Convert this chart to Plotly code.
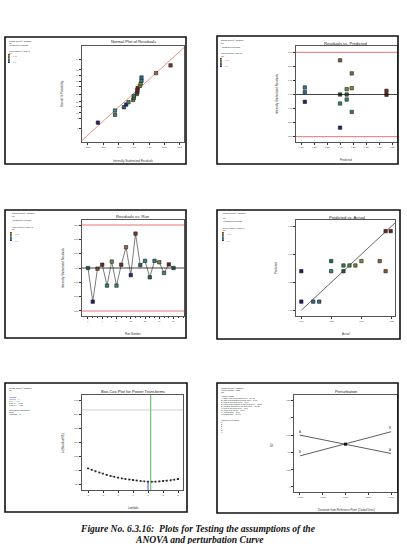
import plotly.graph_objects as go
from statistics import NormalDist

W, H = 407, 544

# ---------------- data ----------------
run_no = list(range(1, 20))
residuals = [0.00, -2.35, -0.05, 0.23, -1.23, 0.45, -1.23, 0.23, 1.45, -0.50,
             2.40, 0.20, 0.50, -0.65, 0.50, 0.40, -0.35, 0.25, 0.00]
run_colors = ["#2e7d4f", "#1f1f6b", "#8a6a2a", "#7a2222", "#2f7f78", "#7f8a3a",
              "#3a8a7a", "#7a2a2a", "#9a6a3a", "#262680", "#803a2a", "#2a5f6a",
              "#2f8080", "#2a6060", "#2f6f90", "#6f8a3a", "#3a8a5a", "#6a2020", "#2a7a4a"]
normal_prob = [2.63, 7.89, 13.16, 18.42, 23.68, 28.95, 34.21, 39.47, 44.74, 50.00,
               55.26, 60.53, 65.79, 71.05, 76.32, 81.58, 86.84, 92.11, 97.37]
normal_ticks = [1, 5, 10, 20, 30, 50, 70, 80, 90, 95, 99]
normal_line_x = [-3.39, 3.28]
normal_line_p = [0.084, 99.916]

pred_vals = [0.177, 0.177, 0.177, 0.448, 0.448, 0.448, 0.448, 0.499, 0.499, 0.499,
             0.538, 0.538, 0.538, 0.805, 0.805]
pred_resid = [0.50, 0.17, -0.52, 2.43, 0.00, -0.64, -2.36, 0.38, 0.00, -0.36,
              1.50, 0.45, -1.24, 0.26, -0.02]
pred_colors = ["#2f6f90", "#2a6a90", "#1f1f6b", "#8a5a2a", "#1e5a32", "#2f7f78", "#1f1f6b",
               "#6f8a3a", "#2e7d4f", "#3a8a6a", "#8a6a3a", "#7f8a3a", "#2f7f78", "#7a2222", "#6a2020"]
resid_limit = 3.0

actual_vals = [0.100, 0.100, 0.199, 0.249, 0.348, 0.348, 0.450, 0.450, 0.500, 0.549,
               0.599, 0.751, 0.800, 0.800, 0.842]
predicted_vals = [0.448, 0.177, 0.177, 0.177, 0.538, 0.448, 0.499, 0.448, 0.499, 0.499,
                  0.538, 0.538, 0.448, 0.805, 0.805]
pva_colors = ["#1f1f6b", "#1f1f6b", "#2a6a90", "#2f6f90", "#1e6a4a", "#2f8080", "#2e7d4f",
              "#1e5a32", "#3a8a4a", "#6f8a3a", "#7f8a3a", "#8a6a3a", "#8a5a2a", "#7a2222", "#6a2020"]
fit_line = [0.10, 0.90]

lambda_vals = [-3.0, -2.75, -2.5, -2.25, -2.0, -1.75, -1.5, -1.25, -1.0, -0.75, -0.5, -0.25,
               0.0, 0.25, 0.5, 0.75, 1.0, 1.25, 1.5, 1.75, 2.0, 2.25, 2.5, 2.75, 3.0]
ln_rss = [-3.917, -3.970, -4.024, -4.066, -4.107, -4.150, -4.190, -4.220, -4.250, -4.275,
          -4.298, -4.316, -4.333, -4.352, -4.369, -4.382, -4.393, -4.396, -4.393, -4.383,
          -4.369, -4.357, -4.345, -4.322, -4.298]
lambda_current = 1.0
lambda_best = 1.18
ci_level = -1.833

pert_dev = [-1.0, 0.0, 1.0]
pert_A = [0.751, 0.620, 0.485]
pert_B = [0.450, 0.620, 0.800]

# ---------------- helpers ----------------
def px(x):
    return x / W

def py(y):
    return 1 - y / H

nd = NormalDist()
def z(p):
    return nd.inv_cdf(p / 100.0)

fig = go.Figure()

base_ax = dict(showline=True, linecolor="#555", linewidth=0.8, mirror=True,
               ticks="outside", ticklen=2, tickwidth=0.6, tickcolor="#333",
               tickfont=dict(size=2.3, family="Liberation Sans", color="#333"),
               showgrid=False, zeroline=False, fixedrange=True)

# plot areas (pixel coords): x0, x1, y0(top), y1(bottom)
areas = {
    1: (82, 184, 46, 142),
    2: (296, 397, 46, 142),
    3: (82, 184, 220, 316),
    4: (296, 395, 220, 316),
    5: (82, 183, 395, 490),
    6: (294, 397, 395, 492),
}
layout_axes = {}
for i, (x0, x1, y0, y1) in areas.items():
    sx = "" if i == 1 else str(i)
    layout_axes["xaxis" + sx] = dict(base_ax, domain=[px(x0), px(x1)], anchor="y" + sx)
    layout_axes["yaxis" + sx] = dict(base_ax, domain=[py(y1), py(y0)], anchor="x" + sx)

def fmt2(v):
    return "%.2f" % v

# Panel 1 ranges/ticks
layout_axes["xaxis"].update(range=[-3.39, 3.28], tickvals=[-3, -2, -1, 0, 1, 2, 3],
                            ticktext=[fmt2(v) for v in [-3, -2, -1, 0, 1, 2, 3]])
layout_axes["yaxis"].update(range=[-3.25, 3.25], tickvals=[z(p) for p in normal_ticks],
                            ticktext=[str(p) for p in normal_ticks])
# Panel 2
p2x = [0.15, 0.25, 0.35, 0.45, 0.55, 0.65, 0.75, 0.85]
layout_axes["xaxis2"].update(range=[0.109, 0.886], tickvals=p2x, ticktext=[fmt2(v) for v in p2x])
ry = [-3, -2, -1, 0, 1, 2, 3]
layout_axes["yaxis2"].update(range=[-3.38, 3.45], tickvals=ry, ticktext=[fmt2(v) for v in ry])
# Panel 3
layout_axes["xaxis3"].update(range=[-0.26, 21.2], tickvals=[1, 4, 7, 10, 13, 16, 19],
                             minor=dict(tickvals=list(range(1, 22)), ticks="outside",
                                        ticklen=1, tickwidth=0.5, tickcolor="#333"))
layout_axes["yaxis3"].update(range=[-3.35, 3.35], tickvals=ry, ticktext=[fmt2(v) for v in ry])
# Panel 4
p4t = [0.10, 0.35, 0.60, 0.85]
layout_axes["xaxis4"].update(range=[0.056, 0.878], tickvals=p4t, ticktext=[fmt2(v) for v in p4t])
layout_axes["yaxis4"].update(range=[0.049, 0.904], tickvals=p4t, ticktext=[fmt2(v) for v in p4t])
# Panel 5
p5x = [-3, -2, -1, 0, 1, 2, 3]
layout_axes["xaxis5"].update(range=[-3.4, 3.33], tickvals=p5x, ticktext=[str(v) for v in p5x])
p5y = [-4.5, -4.0, -3.5, -3.0, -2.5, -2.0, -1.5]
layout_axes["yaxis5"].update(range=[-4.69, -1.298], tickvals=p5y, ticktext=[fmt2(v) for v in p5y])
# Panel 6
p6x = [-1.0, -0.5, 0.0, 0.5, 1.0]
layout_axes["xaxis6"].update(range=[-1.13, 1.13], tickvals=p6x, ticktext=["%.3f" % v for v in p6x])
p6y = [0, 0.25, 0.5, 0.75, 1.0, 1.25]
layout_axes["yaxis6"].update(range=[-0.073, 1.332], tickvals=p6y,
                             ticktext=["0", "0.25", "0.5", "0.75", "1", "1.25"])

mk = lambda cols: dict(symbol="square", size=3.4, color=cols, line=dict(width=0.6, color="#222"))

# ---- Panel 1: normal plot
order = sorted(range(len(residuals)), key=lambda k: residuals[k])
fig.add_trace(go.Scatter(x=normal_line_x, y=[z(p) for p in normal_line_p], mode="lines",
                         line=dict(color="#e06060", width=0.7), xaxis="x", yaxis="y"))
fig.add_trace(go.Scatter(x=[residuals[k] for k in order], y=[z(p) for p in normal_prob],
                         mode="markers", marker=mk([run_colors[k] for k in order]),
                         xaxis="x", yaxis="y"))

# ---- Panel 2: residuals vs predicted
fig.add_trace(go.Scatter(x=pred_vals, y=pred_resid, mode="markers", marker=mk(pred_colors),
                         xaxis="x2", yaxis="y2"))

# ---- Panel 3: residuals vs run
fig.add_trace(go.Scatter(x=run_no, y=residuals, mode="lines+markers",
                         line=dict(color="#222", width=0.6), marker=mk(run_colors),
                         xaxis="x3", yaxis="y3"))

# ---- Panel 4: predicted vs actual
fig.add_trace(go.Scatter(x=fit_line, y=fit_line, mode="lines", line=dict(color="#222", width=0.7),
                         xaxis="x4", yaxis="y4"))
fig.add_trace(go.Scatter(x=actual_vals, y=predicted_vals, mode="markers", marker=mk(pva_colors),
                         xaxis="x4", yaxis="y4"))

# ---- Panel 5: Box-Cox
fig.add_trace(go.Scatter(x=lambda_vals, y=ln_rss, mode="lines+markers",
                         line=dict(color="#444", width=0.5, dash="dot"),
                         marker=dict(symbol="square", size=1.8, color="#222"),
                         xaxis="x5", yaxis="y5"))

# ---- Panel 6: perturbation
fig.add_trace(go.Scatter(x=pert_dev, y=pert_A, mode="lines", line=dict(color="#333", width=0.8),
                         xaxis="x6", yaxis="y6"))
fig.add_trace(go.Scatter(x=pert_dev, y=pert_B, mode="lines", line=dict(color="#333", width=0.8),
                         xaxis="x6", yaxis="y6"))
fig.add_trace(go.Scatter(x=[pert_dev[1]], y=[pert_A[1]], mode="markers",
                         marker=dict(symbol="square", size=3, color="#111"),
                         xaxis="x6", yaxis="y6"))

shapes = []
# reference lines
for ax in ("2", "3"):
    shapes.append(dict(type="line", xref="x%s domain" % ax, yref="y" + ax, x0=0, x1=1,
                       y0=0, y1=0, line=dict(color="#111", width=0.8)))
    for s in (1, -1):
        shapes.append(dict(type="line", xref="x%s domain" % ax, yref="y" + ax, x0=0, x1=1,
                           y0=s * resid_limit, y1=s * resid_limit,
                           line=dict(color="#e05050", width=0.8)))
shapes.append(dict(type="line", xref="x5", yref="y5 domain", x0=lambda_best, x1=lambda_best,
                   y0=0, y1=1, line=dict(color="#40b040", width=0.9)))
shapes.append(dict(type="line", xref="x5", yref="y5", x0=lambda_current, x1=lambda_current,
                   y0=-4.69, y1=min(ln_rss), line=dict(color="#3030c0", width=0.9)))
shapes.append(dict(type="line", xref="x5 domain", yref="y5", x0=0, x1=1,
                   y0=ci_level, y1=ci_level, line=dict(color="#bbb", width=0.7)))

# panel frames
frames = [(5, 37, 186, 164), (217, 36, 398, 164), (5, 210, 186, 338),
          (217, 210, 400, 339), (5, 383, 187, 512), (217, 383, 398, 513)]
for (x0, y0, x1, y1) in frames:
    shapes.append(dict(type="rect", xref="paper", yref="paper", x0=px(x0), x1=px(x1),
                       y0=py(y1), y1=py(y0), line=dict(color="#111", width=1.6)))

# color bars (legend) for panels 1-4
bar_cols = ["#8a2a1a", "#7a5a2a", "#3a7a3a", "#2a7a5a", "#2a5a7a", "#1f1f6b"]
legend_pos = [(8, 54), (220, 58), (10, 232), (222, 232)]
for (bx, by) in legend_pos:
    h = 9.0 / len(bar_cols)
    for k, c in enumerate(bar_cols):
        shapes.append(dict(type="rect", xref="paper", yref="paper", x0=px(bx), x1=px(bx + 1.8),
                           y0=py(by + (k + 1) * h), y1=py(by + k * h),
                           line=dict(width=0), fillcolor=c))

annotations = []
def txt(x, y, s, size=2.0, color="#222", xa="left", angle=0, family="Liberation Sans", **kw):
    annotations.append(dict(x=px(x), y=py(y), xref="paper", yref="paper", text=s,
                            showarrow=False, xanchor=xa, yanchor="middle", textangle=angle,
                            font=dict(size=size, color=color, family=family), **kw))

# titles
titles = [(133, 42, "Normal Plot of Residuals"), (346, 43, "Residuals vs. Predicted"),
          (133, 216.5, "Residuals vs. Run"), (347, 217.5, "Predicted vs. Actual"),
          (133, 391, "Box-Cox Plot for Power Transforms"), (346.5, 391.5, "Perturbation")]
for (x, y, s) in titles:
    txt(x, y, s, size=4.1, color="#222", xa="center")

# axis titles
axt = [(133, 161, "Internally Studentized Residuals", 0), (62, 94, "Normal % Probability", -90),
       (346, 160, "Predicted", 0), (277, 94, "Internally Studentized Residuals", -90),
       (133, 334, "Run Number", 0), (63, 268, "Internally Studentized Residuals", -90),
       (346, 334, "Actual", 0), (276, 268, "Predicted", -90),
       (133, 508, "Lambda", 0), (63, 443, "Ln(ResidualSS)", -90),
       (346, 510, "Deviation from Reference Point (Coded Units)", 0), (272, 445, "R2", -90)]
for (x, y, s, a) in axt:
    txt(x, y, s, size=2.8, color="#333", xa="center", angle=a)

# legend text blocks (panels 1-4)
blocks = [(7.3, [40.7, 42.7, 45.3, 51, 52.7], (11, 55.5, 62.5)),
          (219, [40, 43, 46.7, 53, 56], (223, 59.5, 66.5)),
          (9.5, [212.7, 216, 220, 226.7, 229.3], (13, 233.5, 240.5)),
          (221, [213, 217.7, 220.7, 227.7, 230], (225, 233.5, 240.5))]
lines = ["Design-Expert® Software", "R1", "Adjusted for covariate",
         "Color points by value of", "R1:"]
for (bx, ys, (lx, yr, yb)) in blocks:
    for s, y in zip(lines, ys):
        txt(bx, y, s)
    txt(lx, yr, "0.93", color="#ff3030")
    txt(lx, yb, "0.1", color="#3050ff")

# Box-Cox text
bc = [(388, "Design-Expert® Software", "#222"), (390, "R1", "#222"),
      (397, "Lambda", "#222"), (399, "Current = 1", "#3030ff"),
      (401, "Best = 1.18", "#30c030"), (403, "Low C.I. = 0.35", "#222"),
      (405, "High C.I. = 1.98", "#222"), (410, "Recommend transform:", "#222"),
      (412, "None", "#222"), (414, "(Lambda = 1)", "#222")]
for (y, s, c) in bc:
    txt(7.3, y, s, color=c)

# Perturbation text
pt = ["Design-Expert® Software", "Factor Coding: Actual", "R2", "",
      "Actual Factors",
      "A: PEG 4000 in the drug layer = 50.00",
      "B: Talc concentration in drug layer = 5.00",
      "C: SLS in the drug layer = 5.00",
      "D: PEG concentration in the seal layer = 12.50",
      "E: Sodium chloride in the seal layer = 27.50",
      "F: SLS in the seal layer = 5.00",
      "G: Propylene glycol = 5.00",
      "H: Curing time = 5.00",
      "J: weight gain = 10.00", "", "",
      "Factors not in model", "C", "D", "E", "F", "G", "H"]
for k, s in enumerate(pt):
    if s:
        txt(219, 388 + 2 * k, s)

# perturbation end labels
for (x, y, s) in [(-1.0, 0.80, "A"), (-1.0, 0.50, "B"), (0.97, 0.86, "B"), (0.97, 0.53, "A")]:
    annotations.append(dict(x=x, y=y, xref="x6", yref="y6", text=s, showarrow=False,
                            font=dict(size=2.8, color="#222", family="Liberation Sans")))

# caption
txt(198, 528.5, "<b><i>Figure No. 6.3.16:  Plots for Testing the assumptions of the</i></b>",
    size=9.6, color="#111", xa="center", family="Liberation Serif")
txt(199, 539.5, "<b><i>ANOVA and perturbation Curve</i></b>",
    size=9.6, color="#111", xa="center", family="Liberation Serif")

fig.update_layout(width=W, height=H, margin=dict(l=0, r=0, t=0, b=0),
                  paper_bgcolor="white", plot_bgcolor="white", showlegend=False,
                  shapes=shapes, annotations=annotations, **layout_axes)

fig.write_html("out.html", config={"displayModeBar": False})
